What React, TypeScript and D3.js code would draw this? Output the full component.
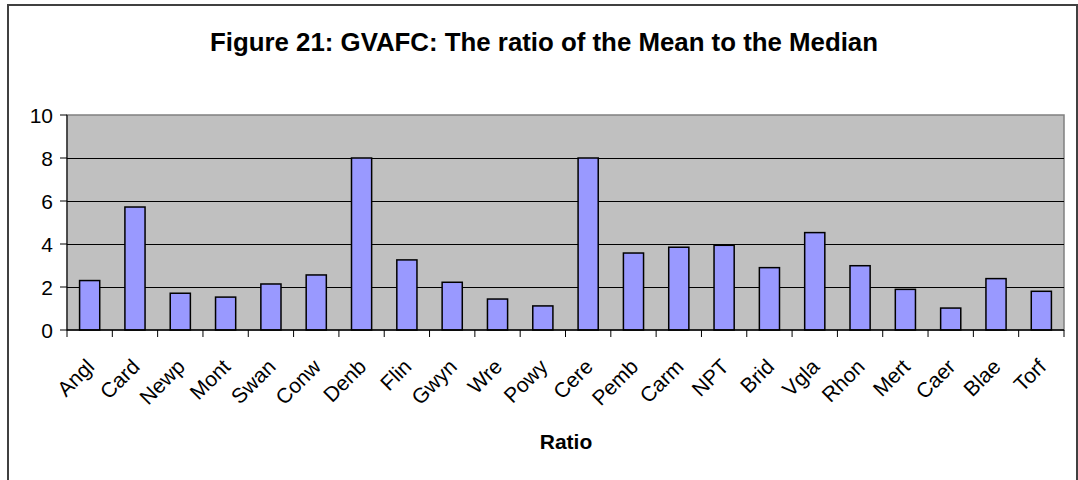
import * as d3 from 'd3'

// data
const categories = [
  'Angl', 'Card', 'Newp', 'Mont', 'Swan', 'Conw', 'Denb', 'Flin', 'Gwyn', 'Wre', 'Powy',
  'Cere', 'Pemb', 'Carm', 'NPT', 'Brid', 'Vgla', 'Rhon', 'Mert', 'Caer', 'Blae', 'Torf',
]
const ratios = [
  2.3, 5.72, 1.71, 1.53, 2.14, 2.56, 8.0, 3.26, 2.22, 1.44, 1.12,
  8.0, 3.58, 3.85, 3.94, 2.9, 4.53, 2.99, 1.89, 1.02, 2.39, 1.8,
]
const yTicks = [0, 2, 4, 6, 8, 10]
const gridValues = [2, 4, 6, 8]

const title = 'Figure 21: GVAFC: The ratio of the Mean to the Median'
const xTitle = 'Ratio'

const W = 1078
const H = 480
const FONT = '"Liberation Sans", Arial, sans-serif'

export default function App() {
  // plot area
  const left = 67
  const right = 1064
  const top = 115
  const bottom = 330

  const x = d3.scaleBand<string>()
    .domain(categories)
    .range([left, right])
    .paddingInner(1.25 / 2.25)
    .paddingOuter(1.25 / 4.5)

  const y = d3.scaleLinear().domain([0, 10]).range([bottom, top])

  const step = (right - left) / categories.length
  const boundaries = d3.range(categories.length + 1).map(i => left + i * step)

  return (
    <svg
      width={W}
      height={H}
      style={{ position: 'absolute', left: 0, top: 0, background: '#fff' }}
      fontFamily={FONT}
    >
      {/* chart border */}
      <rect x={8} y={5} width={1069} height={H + 10} fill="#fff" stroke="#404040" strokeWidth={2} />

      {/* title */}
      <text
        x={544}
        y={51}
        textAnchor="middle"
        fontSize={26}
        fontWeight="bold"
        textLength={668}
        lengthAdjust="spacingAndGlyphs"
      >
        {title}
      </text>

      {/* plot area */}
      <rect x={left} y={top} width={right - left} height={bottom - top} fill="#c0c0c0" stroke="#808080" strokeWidth={1.5} />

      {gridValues.map(v => (
        <line key={v} x1={left} x2={right} y1={Math.round(y(v)) + 0.5} y2={Math.round(y(v)) + 0.5} stroke="#000" strokeWidth={1.2} />
      ))}

      {/* bars */}
      {categories.map((c, i) => (
        <rect
          key={c}
          x={x(c)}
          y={y(ratios[i])}
          width={x.bandwidth()}
          height={y(0) - y(ratios[i])}
          fill="#9999ff"
          stroke="#000"
          strokeWidth={1.5}
        />
      ))}

      {/* y axis */}
      <line x1={left} x2={left} y1={top} y2={bottom} stroke="#000" strokeWidth={1} />
      {yTicks.map(v => (
        <g key={v}>
          <line x1={left - 7} x2={left} y1={y(v)} y2={y(v)} stroke="#000" strokeWidth={1} />
          <text x={53} y={y(v)} dy="0.36em" textAnchor="end" fontSize={21}>
            {v}
          </text>
        </g>
      ))}

      {/* x axis */}
      <line x1={left} x2={right} y1={bottom} y2={bottom} stroke="#000" strokeWidth={1.5} />
      {boundaries.map((b, i) => (
        <line key={i} x1={b} x2={b} y1={bottom} y2={bottom + 7} stroke="#000" strokeWidth={1} />
      ))}
      {categories.map(c => {
        const cx = (x(c) ?? 0) + x.bandwidth() / 2
        return (
          <text
            key={c}
            transform={`translate(${cx + 6},${bottom + 38}) rotate(-45)`}
            textAnchor="end"
            fontSize={21}
          >
            {c}
          </text>
        )
      })}

      {/* x axis title */}
      <text x={566} y={449} textAnchor="middle" fontSize={21} fontWeight="bold">
        {xTitle}
      </text>
    </svg>
  )
}
